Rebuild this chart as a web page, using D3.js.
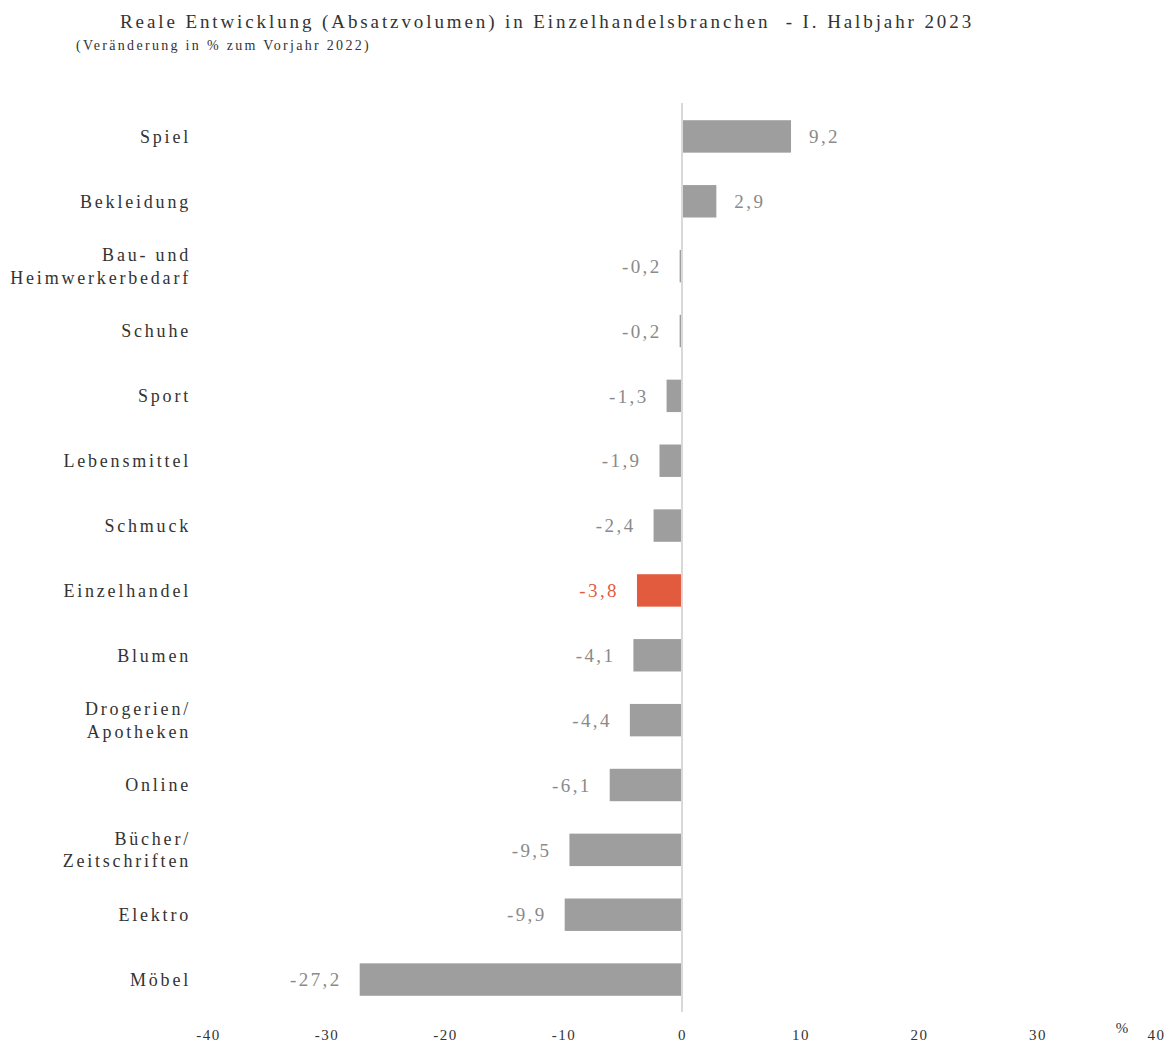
<!DOCTYPE html>
<html lang="de">
<head>
<meta charset="UTF-8">
<title>Reale Entwicklung Einzelhandel</title>
<style>
  body, html { margin: 0; padding: 0; background: #fff; }
  svg text { font-family: "Liberation Serif", "DejaVu Serif", serif; }
</style>
</head>
<body>
<svg id="chart" width="1171" height="1043"></svg>
<script src="https://cdnjs.cloudflare.com/ajax/libs/d3/7.8.5/d3.min.js"></script>
<script>
// data
const categories = ["Spiel", "Bekleidung", "Bau- und|Heimwerkerbedarf", "Schuhe", "Sport",
  "Lebensmittel", "Schmuck", "Einzelhandel", "Blumen", "Drogerien/|Apotheken", "Online",
  "Bücher/|Zeitschriften", "Elektro", "Möbel"];
const values = [9.2, 2.9, -0.2, -0.2, -1.3, -1.9, -2.4, -3.8, -4.1, -4.4, -6.1, -9.5, -9.9, -27.2];
const highlight = "Einzelhandel";
const ticks = [-40, -30, -20, -10, 0, 10, 20, 30, 40];

const svg = d3.select("#chart");
const fmt = v => d3.format(".1f")(v).replace(".", ",").replace("−", "-");

const x = d3.scaleLinear().domain([-40, 40]).range([208, 1156]);
const y = d3.scaleBand().domain(categories).range([104, 1012]).paddingInner(0.5).paddingOuter(0.25);

// title
svg.append("text").attr("x", 120).attr("y", 28)
  .attr("font-size", 19).attr("letter-spacing", 2.9).attr("fill", "#333")
  .style("white-space", "pre")
  .text("Reale Entwicklung (Absatzvolumen) in Einzelhandelsbranchen  - I. Halbjahr 2023");
svg.append("text").attr("x", 76).attr("y", 50)
  .attr("font-size", 14).attr("letter-spacing", 2.3).attr("fill", "#333")
  .text("(Veränderung in % zum Vorjahr 2022)");

// bars
svg.selectAll("rect.bar").data(categories).join("rect")
  .attr("class", "bar")
  .attr("x", (d, i) => x(Math.min(0, values[i])))
  .attr("y", d => y(d))
  .attr("width", (d, i) => Math.abs(x(values[i]) - x(0)))
  .attr("height", y.bandwidth())
  .attr("fill", d => d === highlight ? "#E35B3E" : "#9E9E9E");

// zero line
svg.append("line")
  .attr("x1", x(0)).attr("x2", x(0))
  .attr("y1", 103).attr("y2", 1012)
  .attr("stroke", "#d9d9d9").attr("stroke-width", 2);

// value labels
svg.selectAll("text.val").data(categories).join("text")
  .attr("class", "val")
  .attr("x", (d, i) => values[i] >= 0 ? x(values[i]) + 18 : x(values[i]) - 18)
  .attr("y", d => y(d) + y.bandwidth() / 2)
  .attr("dy", "0.35em")
  .attr("text-anchor", (d, i) => values[i] >= 0 ? "start" : "end")
  .attr("font-size", 19).attr("letter-spacing", 2.4)
  .attr("fill", d => d === highlight ? "#E35B3E" : "#8a8a8a")
  .text((d, i) => fmt(values[i]));

// category labels
const cat = svg.selectAll("text.cat").data(categories).join("text")
  .attr("class", "cat")
  .attr("text-anchor", "end")
  .attr("font-size", 18).attr("letter-spacing", 2.8)
  .attr("fill", "#333")
  .attr("y", d => y(d) + y.bandwidth() / 2);
cat.each(function(d) {
  const lines = d.split("|");
  const t = d3.select(this);
  lines.forEach((l, j) => {
    t.append("tspan").attr("x", 191)
      .attr("dy", j === 0 ? (0.35 - (lines.length - 1) * 0.62) + "em" : "1.25em")
      .text(l);
  });
});

// x axis tick labels
const axis = d3.axisBottom(x).tickValues(ticks).tickSize(0).tickPadding(0)
  .tickFormat(d => String(d));
const g = svg.append("g").attr("transform", "translate(0,1029)").call(axis);
g.select(".domain").remove();
g.selectAll("text")
  .attr("font-family", "Liberation Serif, serif")
  .attr("font-size", 15).attr("letter-spacing", 1.5).attr("fill", "#333");

svg.append("text").attr("x", 1122).attr("y", 1033)
  .attr("text-anchor", "middle").attr("font-size", 15).attr("fill", "#333").text("%");
</script>
</body>
</html>
